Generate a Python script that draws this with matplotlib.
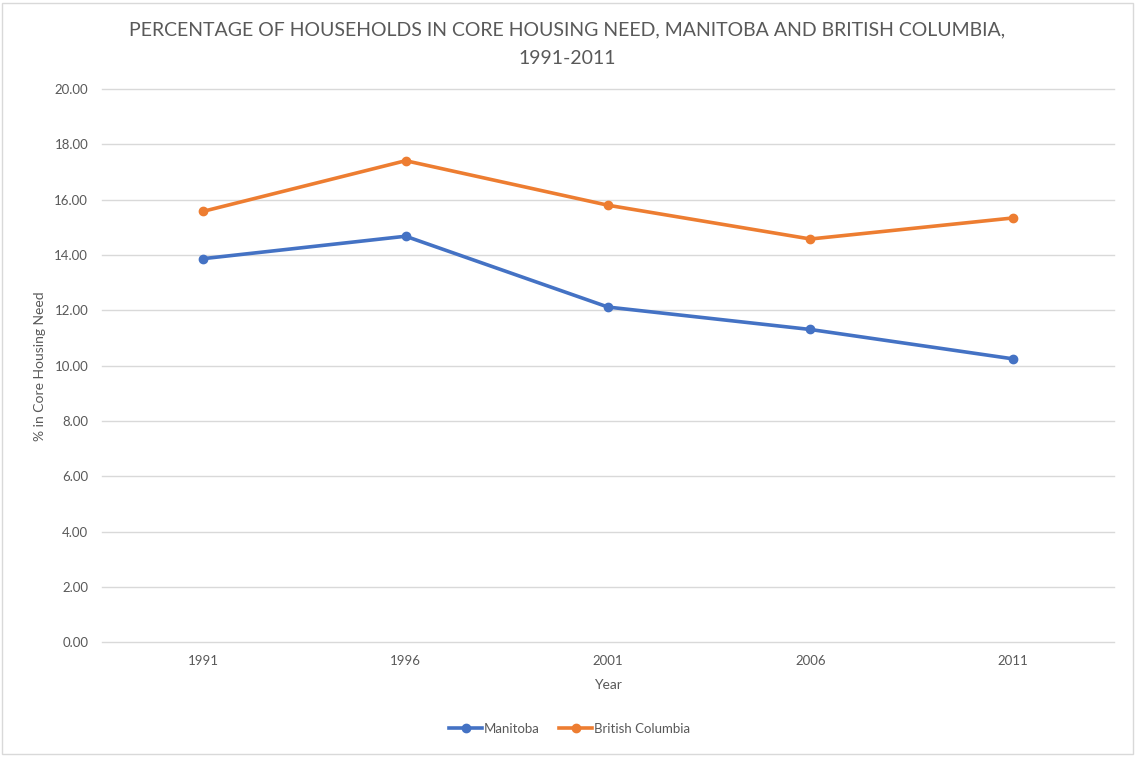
import numpy as np
import matplotlib
matplotlib.use("Agg")
import matplotlib.pyplot as plt
from matplotlib.patches import Rectangle

years = ["1991", "1996", "2001", "2006", "2011"]
manitoba = [13.87, 14.68, 12.12, 11.31, 10.25]
british_columbia = [15.58, 17.41, 15.80, 14.58, 15.34]
y_ticks = [0, 2, 4, 6, 8, 10, 12, 14, 16, 18, 20]

plt.rcParams['font.family'] = ['Lato', 'DejaVu Sans']
text_color = '#595959'

fig = plt.figure(figsize=(11.35, 7.57), dpi=100)
ax = fig.add_axes([0.0899, 0.1513, 0.8916, 0.7311])

x = np.arange(len(years))
ax.plot(x, manitoba, color='#4472C4', linewidth=2.6, marker='o',
        markersize=6, label='Manitoba')
ax.plot(x, british_columbia, color='#ED7D31', linewidth=2.6, marker='o',
        markersize=6, label='British Columbia')

ax.set_xlim(-0.5, len(years) - 0.5)
ax.set_ylim(0, 20)
ax.set_yticks(y_ticks)
ax.set_yticklabels([f"{v:.2f}" for v in y_ticks])
ax.set_xticks(x)
ax.set_xticklabels(years)
ax.tick_params(axis='both', length=0, labelsize=9.5, colors=text_color)
ax.tick_params(axis='x', pad=9)
ax.tick_params(axis='y', pad=10)
ax.grid(axis='y', color='#D9D9D9', linewidth=1)
for gl in ax.get_ygridlines():
    gl.set_clip_on(False)
ax.set_axisbelow(True)
for s in ax.spines.values():
    s.set_visible(False)

ax.set_xlabel("Year", fontsize=10, color=text_color, labelpad=9)
ax.set_ylabel("% in Core Housing Need", fontsize=10, color=text_color, labelpad=6)

fig.text(0.5, 0.942, "PERCENTAGE OF HOUSEHOLDS IN CORE HOUSING NEED, MANITOBA AND BRITISH COLUMBIA,\n1991-2011",
         ha='center', va='center', fontsize=14, color=text_color, linespacing=1.85)

ax.legend(loc='center', bbox_to_anchor=(0.462, -0.156), ncol=2, frameon=False,
          fontsize=9.5, labelcolor=text_color, handlelength=2.5, handletextpad=0.1,
          columnspacing=1.5)

fig.patches.append(Rectangle((0.002, 0.004), 0.996, 0.992, transform=fig.transFigure,
                             fill=False, edgecolor='#D9D9D9', linewidth=1))

fig.savefig("out.png", dpi=100)
